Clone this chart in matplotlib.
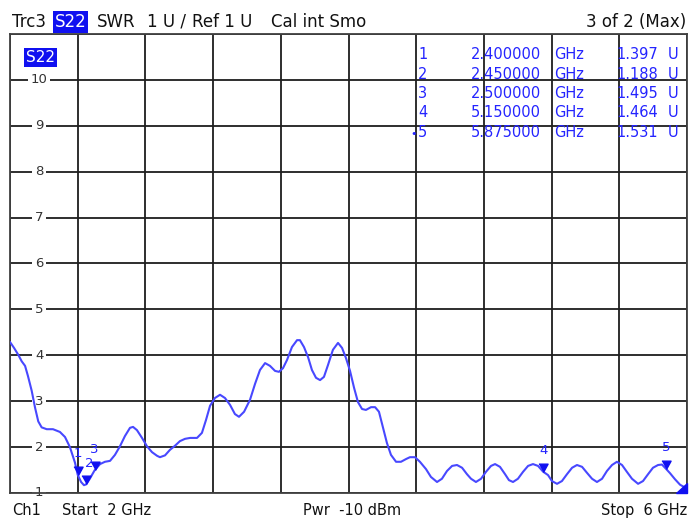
import matplotlib.pyplot as plt
import matplotlib.transforms as mtransforms

# S22 trace (GHz, SWR)
freq_ghz = [2.000, 2.024, 2.049, 2.069, 2.089, 2.106, 2.128, 2.148, 2.167, 2.187,
            2.217, 2.254, 2.295, 2.325, 2.354, 2.384, 2.400, 2.420, 2.437, 2.450,
            2.473, 2.500, 2.532, 2.561, 2.591, 2.620, 2.650, 2.679, 2.709, 2.727,
            2.750, 2.780, 2.809, 2.839, 2.869, 2.886, 2.916, 2.945, 2.975, 3.004,
            3.034, 3.064, 3.105, 3.134, 3.158, 3.182, 3.211, 3.241, 3.270, 3.300,
            3.329, 3.353, 3.383, 3.418, 3.448, 3.477, 3.507, 3.536, 3.566, 3.589,
            3.613, 3.637, 3.666, 3.696, 3.713, 3.737, 3.761, 3.784, 3.808, 3.832,
            3.855, 3.879, 3.908, 3.938, 3.962, 3.985, 4.009, 4.033, 4.056, 4.080,
            4.103, 4.133, 4.157, 4.180, 4.204, 4.227, 4.251, 4.281, 4.310, 4.340,
            4.363, 4.393, 4.422, 4.458, 4.487, 4.523, 4.552, 4.582, 4.612, 4.641,
            4.671, 4.700, 4.724, 4.753, 4.783, 4.812, 4.842, 4.866, 4.895, 4.925,
            4.948, 4.972, 5.001, 5.031, 5.061, 5.090, 5.120, 5.150, 5.179, 5.202,
            5.232, 5.261, 5.291, 5.321, 5.350, 5.380, 5.409, 5.439, 5.468, 5.498,
            5.527, 5.557, 5.586, 5.616, 5.645, 5.675, 5.711, 5.740, 5.770, 5.799,
            5.829, 5.852, 5.875, 5.900, 5.929, 5.959, 5.988, 6.000]
swr = [4.29, 4.16, 4.01, 3.87, 3.77, 3.55, 3.23, 2.86, 2.56, 2.43,
       2.39, 2.39, 2.33, 2.22, 2.00, 1.66, 1.397, 1.24, 1.17, 1.188,
       1.32, 1.495, 1.63, 1.68, 1.70, 1.83, 2.02, 2.24, 2.42, 2.44,
       2.37, 2.20, 2.02, 1.89, 1.81, 1.78, 1.82, 1.94, 2.03, 2.13,
       2.18, 2.20, 2.20, 2.31, 2.59, 2.90, 3.07, 3.14, 3.07, 2.92,
       2.72, 2.66, 2.77, 3.03, 3.38, 3.68, 3.83, 3.77, 3.66, 3.64,
       3.72, 3.90, 4.18, 4.33, 4.33, 4.18, 3.96, 3.68, 3.51, 3.46,
       3.53, 3.79, 4.12, 4.27, 4.16, 3.94, 3.66, 3.29, 2.98, 2.83,
       2.81, 2.87, 2.87, 2.77, 2.42, 2.09, 1.83, 1.68, 1.68, 1.74,
       1.78, 1.78, 1.68, 1.52, 1.35, 1.24, 1.31, 1.48, 1.59, 1.61,
       1.55, 1.41, 1.31, 1.24, 1.31, 1.46, 1.59, 1.63, 1.57, 1.41,
       1.28, 1.24, 1.31, 1.46, 1.59, 1.63, 1.59, 1.464, 1.39, 1.26,
       1.20, 1.26, 1.41, 1.55, 1.61, 1.57, 1.44, 1.31, 1.24, 1.31,
       1.48, 1.61, 1.68, 1.61, 1.46, 1.31, 1.20, 1.26, 1.41, 1.55,
       1.61, 1.62, 1.531, 1.43, 1.30, 1.18, 1.12, 1.11]

marker_ids = ['1', '2', '3', '4', '5']
marker_freq = [2.400, 2.450, 2.500, 5.150, 5.875]
marker_swr = [1.397, 1.188, 1.495, 1.464, 1.531]

y_labels = [1, 2, 3, 4, 5, 6, 7, 8, 9, 10]

W, H = 689, 519
BLUE_TRACE = '#4848ff'
BLUE_TXT = '#2424ff'
BLUE_BOX = '#1010f0'
plt.rcParams['font.family'] = 'DejaVu Sans'

fig = plt.figure(figsize=(W / 100, H / 100), dpi=100)
fig.patch.set_facecolor('white')

def fx(x):
    return x / W

def fy(y):
    return 1 - y / H

ax = fig.add_axes([fx(10), 26 / H, 677 / W, 459 / H])
ax.set_xlim(2, 6)
ax.set_ylim(1, 11)
ax.set_xticks([2 + 0.4 * i for i in range(11)])
ax.set_yticks(range(1, 12))
ax.grid(True, color='#1e1e1e', lw=1.3)
ax.tick_params(length=0, labelbottom=False, labelleft=False)
for s in ax.spines.values():
    s.set_color('#404040')
    s.set_linewidth(1.3)

# trace
ax.plot(freq_ghz, swr, color=BLUE_TRACE, lw=1.5, zorder=3,
        solid_joinstyle='round', solid_capstyle='round')

# marker triangles with the tip on the trace
tri = [(-0.55, 1.0), (0.55, 1.0), (0.0, 0.0)]
ax.plot(marker_freq, marker_swr, ls='none', marker=tri, ms=12,
        color=BLUE_BOX, zorder=4)
for m, f, v in zip(marker_ids, marker_freq, marker_swr):
    dx = 2 if m == '2' else 0
    ax.annotate(m, (f, v), xytext=(dx, 15), textcoords='offset points',
                ha='center', va='center', color=BLUE_TXT, fontsize=9.5,
                zorder=5)

# end-of-trace indicator
ax.fill([0.984, 1.0, 1.0], [0.0, 0.0, 0.022], transform=ax.transAxes,
        color=BLUE_BOX, clip_on=False, zorder=5)

# y labels inside the grid
trans = mtransforms.blended_transform_factory(ax.transAxes, ax.transData)
for v in y_labels:
    ax.text(0.043, v, str(v), transform=trans, ha='center', va='center',
            fontsize=9.5, color='#333333', zorder=2,
            bbox=dict(fc='white', ec='none', pad=1.8))

fig.text(fx(26), fy(62), 'S22', fontsize=11, color='white', va='baseline',
         bbox=dict(boxstyle='square,pad=0.12', fc=BLUE_BOX, ec='none'))

# header
fig.text(fx(12), fy(27), 'Trc3', fontsize=12, va='baseline', color='#111111')
fig.text(fx(55), fy(27), 'S22', fontsize=12, va='baseline', color='white',
         bbox=dict(boxstyle='square,pad=0.1', fc=BLUE_BOX, ec='none'))
fig.text(fx(97), fy(27), 'SWR', fontsize=12, va='baseline', color='#111111')
fig.text(fx(147), fy(27), '1 U /', fontsize=12, va='baseline', color='#111111')
fig.text(fx(192), fy(27), 'Ref 1 U', fontsize=12, va='baseline', color='#111111')
fig.text(fx(271), fy(27), 'Cal int Smo', fontsize=12, va='baseline', color='#111111')
fig.text(fx(686), fy(27), '3 of 2 (Max)', fontsize=12, va='baseline',
         ha='right', color='#111111')

# marker table
row_base = [59, 79, 98, 117, 137]
for i, (m, f, v) in enumerate(zip(marker_ids, marker_freq, marker_swr)):
    yb = fy(row_base[i])
    kw = dict(fontsize=10.5, va='baseline', color=BLUE_TXT)
    fig.text(fx(418), yb, m, **kw)
    fig.text(fx(541), yb, '%.6f' % f, ha='right', **kw)
    fig.text(fx(554), yb, 'GHz', **kw)
    fig.text(fx(658), yb, '%.3f' % v, ha='right', **kw)
    fig.text(fx(668), yb, 'U', **kw)
fig.text(fx(410), fy(row_base[4]), '\u2022', fontsize=8, va='baseline',
         color=BLUE_TXT)

# footer
fig.text(fx(12), fy(515), 'Ch1', fontsize=10.5, va='baseline', color='#111111')
fig.text(fx(62), fy(515), 'Start  2 GHz', fontsize=10.5, va='baseline', color='#111111')
fig.text(fx(303), fy(515), 'Pwr  -10 dBm', fontsize=10.5, va='baseline', color='#111111')
fig.text(fx(687), fy(515), 'Stop  6 GHz', fontsize=10.5, va='baseline',
         ha='right', color='#111111')

fig.savefig('out.png', dpi=100)
